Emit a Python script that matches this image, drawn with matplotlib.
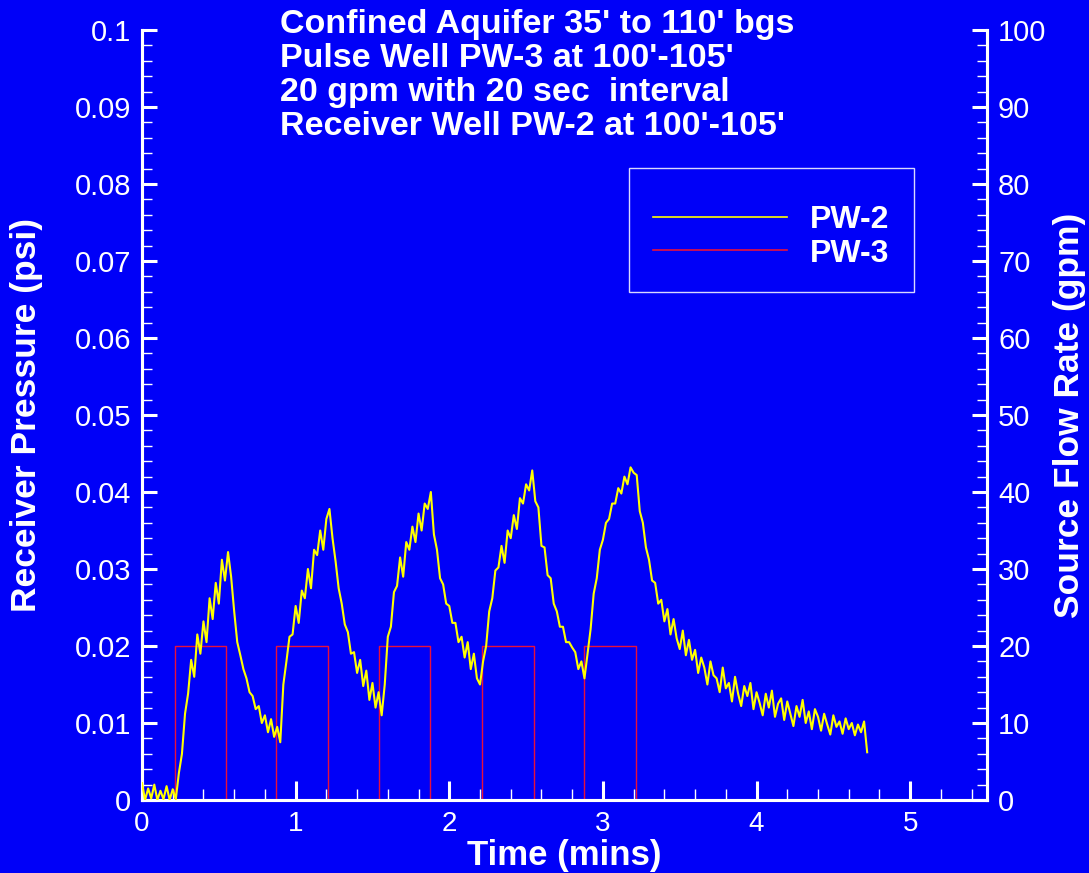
import numpy as np
from matplotlib import pyplot as plt
from matplotlib.patches import Rectangle
from matplotlib.lines import Line2D
from matplotlib.ticker import MultipleLocator

# receiver pressure PW-2 (psi), sampled every 0.02 min from t=0
dt = 0.02
pressure = [
    0.0022, 0.0000, 0.0015, 0.0002, 0.0020, 0.0000, 0.0012, 0.0001, 0.0018, 0.0000,  # 0.00
    0.0014, 0.0001, 0.0035, 0.0060, 0.0112, 0.0138, 0.0182, 0.0160, 0.0215, 0.0190,  # 0.20
    0.0232, 0.0205, 0.0262, 0.0235, 0.0282, 0.0255, 0.0312, 0.0285, 0.0322, 0.0290,  # 0.40
    0.0245, 0.0205, 0.0188, 0.0170, 0.0158, 0.0140, 0.0135, 0.0118, 0.0122, 0.0100,  # 0.60
    0.0110, 0.0088, 0.0105, 0.0082, 0.0095, 0.0075, 0.0150, 0.0180, 0.0212, 0.0215,  # 0.80
    0.0252, 0.0230, 0.0272, 0.0262, 0.0300, 0.0275, 0.0325, 0.0318, 0.0350, 0.0325,  # 1.00
    0.0365, 0.0378, 0.0340, 0.0310, 0.0275, 0.0255, 0.0228, 0.0218, 0.0190, 0.0192,  # 1.20
    0.0165, 0.0182, 0.0148, 0.0168, 0.0130, 0.0152, 0.0120, 0.0140, 0.0110, 0.0150,  # 1.40
    0.0212, 0.0225, 0.0270, 0.0278, 0.0315, 0.0290, 0.0335, 0.0325, 0.0355, 0.0335,  # 1.60
    0.0372, 0.0350, 0.0385, 0.0378, 0.0400, 0.0345, 0.0325, 0.0288, 0.0280, 0.0255,  # 1.80
    0.0252, 0.0230, 0.0230, 0.0205, 0.0212, 0.0185, 0.0205, 0.0170, 0.0190, 0.0158,  # 2.00
    0.0150, 0.0180, 0.0200, 0.0245, 0.0262, 0.0298, 0.0302, 0.0330, 0.0308, 0.0350,  # 2.20
    0.0340, 0.0370, 0.0352, 0.0392, 0.0385, 0.0410, 0.0402, 0.0428, 0.0388, 0.0380,  # 2.40
    0.0330, 0.0328, 0.0292, 0.0288, 0.0255, 0.0245, 0.0225, 0.0225, 0.0205, 0.0205,  # 2.60
    0.0198, 0.0192, 0.0170, 0.0180, 0.0158, 0.0190, 0.0222, 0.0268, 0.0288, 0.0325,  # 2.80
    0.0338, 0.0360, 0.0365, 0.0385, 0.0385, 0.0405, 0.0398, 0.0420, 0.0410, 0.0432,  # 3.00
    0.0425, 0.0422, 0.0375, 0.0360, 0.0328, 0.0312, 0.0285, 0.0282, 0.0255, 0.0260,  # 3.20
    0.0232, 0.0248, 0.0215, 0.0235, 0.0210, 0.0196, 0.0220, 0.0188, 0.0208, 0.0182,  # 3.40
    0.0195, 0.0165, 0.0185, 0.0172, 0.0150, 0.0180, 0.0162, 0.0158, 0.0140, 0.0172,  # 3.60
    0.0145, 0.0152, 0.0128, 0.0160, 0.0138, 0.0122, 0.0148, 0.0135, 0.0152, 0.0118,  # 3.80
    0.0140, 0.0126, 0.0110, 0.0138, 0.0120, 0.0142, 0.0108, 0.0125, 0.0132, 0.0104,  # 4.00
    0.0128, 0.0112, 0.0096, 0.0122, 0.0108, 0.0130, 0.0100, 0.0115, 0.0092, 0.0118,  # 4.20
    0.0108, 0.0090, 0.0112, 0.0098, 0.0085, 0.0110, 0.0095, 0.0102, 0.0086, 0.0106,  # 4.40
    0.0092, 0.0100, 0.0084, 0.0098, 0.0088, 0.0102, 0.0062,                          # 4.60
]
time = np.arange(len(pressure)) * dt

# source flow PW-3 (gpm): pulse on/off times in minutes
pulse_on = [0.215, 0.875, 1.545, 2.215, 2.875]
pulse_off = [0.548, 1.213, 1.877, 2.549, 3.214]
pulse_rate = 20

title_lines = ["Confined Aquifer 35' to 110' bgs",
               "Pulse Well PW-3 at 100'-105'",
               "20 gpm with 20 sec  interval",
               "Receiver Well PW-2 at 100'-105'"]

BG = "#0000F8"
plt.rcParams['font.family'] = ['Liberation Sans', 'DejaVu Sans']

fig = plt.figure(figsize=[10.89, 8.73], dpi=100)
fig.patch.set_facecolor(BG)
ax = fig.add_axes([142/1089, 73/873, 845/1089, 770/873])
ax2 = ax.twinx()

# step series for pulses
ft = [0.0]
fq = [0.0]
for on, off in zip(pulse_on, pulse_off):
    ft += [on, on, off, off]
    fq += [0, pulse_rate, pulse_rate, 0]
ft.append(time[-1])
fq.append(0)

ax2.plot(ft, fq, color="#E8103C", lw=1.0, zorder=2)
ax.plot(time, pressure, color="#FFFF00", lw=1.5, zorder=3)
ax.set_zorder(ax2.get_zorder() + 1)
ax.patch.set_visible(False)
ax2.patch.set_visible(True)
ax2.patch.set_facecolor(BG)

ax.set_xlim(0, 5.5)
ax.set_ylim(0, 0.1)
ax2.set_ylim(0, 100)

ax.xaxis.set_major_locator(MultipleLocator(1))
ax.xaxis.set_minor_locator(MultipleLocator(0.2))
ax.yaxis.set_minor_locator(MultipleLocator(0.002))
ax2.yaxis.set_major_locator(MultipleLocator(10))
ax2.yaxis.set_minor_locator(MultipleLocator(2))
ax.set_yticks(np.arange(0, 0.101, 0.01))
ax.set_yticklabels(["0", "0.01", "0.02", "0.03", "0.04", "0.05", "0.06", "0.07", "0.08", "0.09", "0.1"])

for a in (ax, ax2):
    for s in a.spines.values():
        s.set_color("white")
        s.set_linewidth(2.2)
    a.spines['top'].set_visible(False)
    a.tick_params(which='both', direction='in', colors='white')
    a.tick_params(which='major', length=11, width=2.2)
    a.tick_params(which='minor', length=7, width=1.0)

ax.tick_params(axis='y', labelsize=21, pad=8)
ax2.tick_params(axis='y', labelsize=21, pad=8)
ax.tick_params(axis='x', which='major', length=14, labelsize=20, pad=8)
ax.tick_params(axis='x', which='minor', length=8)

ax.set_xlabel("Time (mins)", color="white", fontsize=25, fontweight="bold")
ax.xaxis.set_label_coords(0.5, -0.05)
ax.set_ylabel("Receiver Pressure (psi)", color="white", fontsize=25.5, fontweight="bold")
ax.yaxis.set_label_coords(-0.117, 0.5)
ax2.set_ylabel("Source Flow Rate (gpm)", color="white", fontsize=25.5, fontweight="bold")
ax2.yaxis.set_label_coords(1.078, 0.5)

for i, line in enumerate(title_lines):
    fig.text(280/1089, 1 - (33 + 34*i)/873, line, color="white", fontsize=24.5,
             fontweight="bold", va="baseline", ha="left")

# legend
fig.patches.append(Rectangle((629/1089, 1 - 292/873), 285/1089, 124/873, transform=fig.transFigure,
                             fill=False, edgecolor="#D8D8FF", lw=1.0))
handles = [Line2D([], [], color="#FFFF00", lw=1.2), Line2D([], [], color="#E8103C", lw=1.2)]
fig.legend(handles, ["PW-2", "PW-3"], loc="center left", bbox_to_anchor=(653/1089, 1 - 237/873),
           frameon=False, handlelength=4.2, handletextpad=0.72, labelspacing=0.1,
           borderpad=0, borderaxespad=0,
           prop={'size': 23, 'weight': 'bold'}, labelcolor="white")

fig.savefig("out.png", facecolor=BG)
